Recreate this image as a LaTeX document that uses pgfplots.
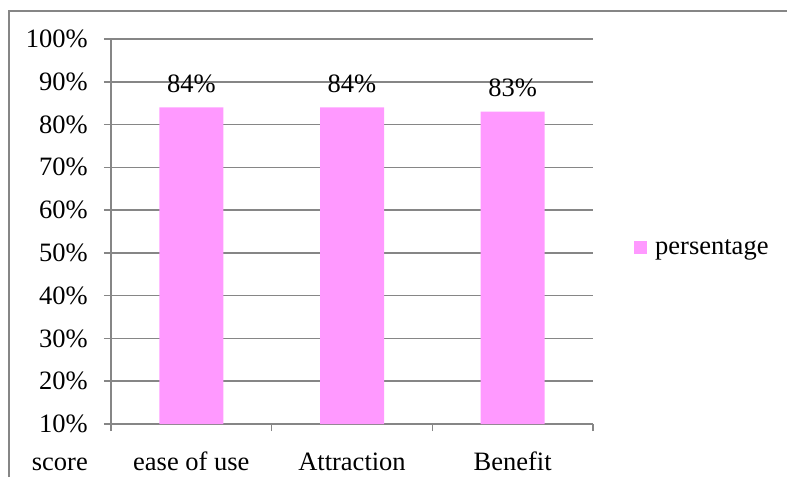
\documentclass[border=0pt]{standalone}
\usepackage{pgfplots}
\pgfplotsset{compat=1.18}
\usepackage{fontspec}
\setmainfont{Liberation Serif}
\definecolor{barpink}{RGB}{255,153,255}
\definecolor{linegray}{RGB}{134,134,134}
\begin{document}
\fontsize{26.5}{31}\selectfont
\begin{tikzpicture}
\useasboundingbox (0pt,0pt) rectangle (787pt,477pt);
% frame of the chart area
\draw[linegray, line width=1.5pt] (9pt,0pt) -- (9pt,466pt) -- (787pt,466pt);
\begin{axis}[
  at={(111pt,53pt)}, anchor=origin,
  scale only axis, width=482pt, height=385pt,
  xmin=0.5, xmax=3.5, ymin=10, ymax=100,
  axis x line=bottom, axis y line=left,
  axis line style={-, draw=linegray, line width=1.5pt},
  xtick={1,2,3},
  xticklabels={ease of use, Attraction, Benefit},
  minor xtick={0.5,1.5,2.5,3.5},
  ytick={10,20,...,100},
  /pgf/number format/assume math mode=true,
  yticklabel={\pgfmathprintnumber{\tick}\%},
  tick align=outside,
  x tick style={draw=none},
  minor x tick style={draw=linegray, line width=1.5pt},
  minor tick length=7pt,
  y tick style={draw=linegray, line width=1.5pt},
  major tick length=7pt,
  ymajorgrids,
  grid style={draw=linegray, line width=1.5pt},
  xticklabel style={anchor=base, inner sep=0pt, yshift=-39pt},
  yticklabel style={anchor=east, inner sep=0pt, xshift=-16pt},
  ybar, bar width=64pt,
  nodes near coords={\pgfmathprintnumber{\pgfplotspointmeta}\%},
  nodes near coords style={anchor=base, inner sep=0pt, yshift=15pt},
  legend style={at={(1,0.5)}, anchor=west, xshift=41pt, yshift=-16pt,
    draw=none, fill=none, inner sep=0pt,
    nodes={inner sep=0pt, text depth=0pt}},
  legend image code/.code={\fill[#1] (0pt,-6.5pt) rectangle (13pt,6.5pt); \path (21pt,0pt);},
]
\addplot[fill=barpink, draw=none] coordinates {(1,84) (2,84) (3,83)};
\addlegendentry{persentage}
\end{axis}
\node[anchor=base east, inner sep=0pt] at (88pt,7pt) {score};
\end{tikzpicture}
\end{document}
